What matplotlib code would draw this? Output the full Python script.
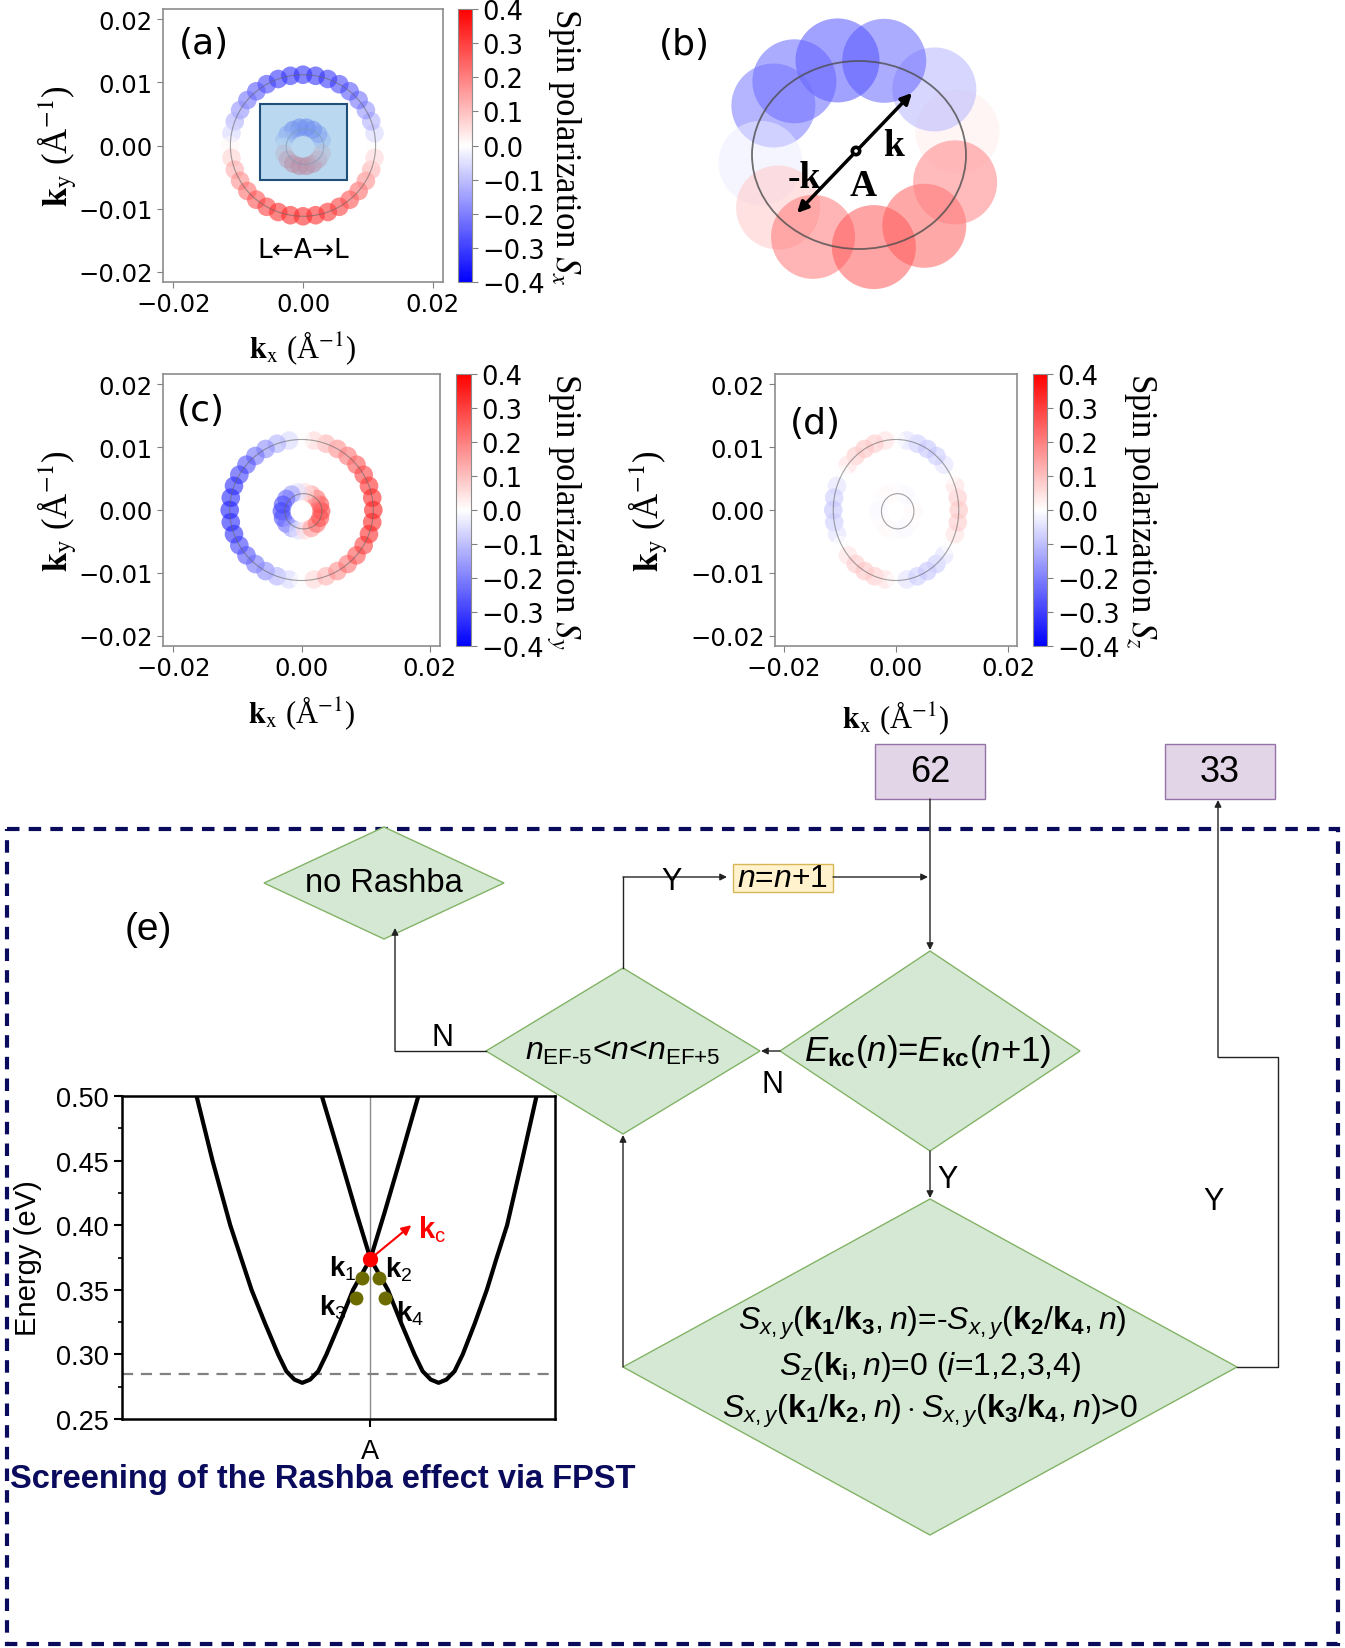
import matplotlib
matplotlib.use("Agg")
import matplotlib.pyplot as plt
import numpy as np
from matplotlib.patches import Polygon, Rectangle, Ellipse, Circle, FancyArrowPatch
from matplotlib.cm import ScalarMappable
from matplotlib.colors import Normalize
from matplotlib.ticker import MultipleLocator

plt.rcParams['font.family'] = ['DejaVu Sans']
plt.rcParams['mathtext.fontset'] = 'custom'
plt.rcParams['mathtext.rm'] = 'Liberation Sans'
plt.rcParams['mathtext.it'] = 'Liberation Sans:italic'
plt.rcParams['mathtext.bf'] = 'Liberation Sans:bold'

# ---------------- data ----------------
# spin textures: points on two rings (angle in degrees, radius in 1/A)
r_outer = 0.0112
r_inner = 0.0031
ang_outer = [0, 10, 20, 30, 40, 50, 60, 70, 80, 90, 100, 110, 120, 130, 140, 150, 160, 170,
             180, 190, 200, 210, 220, 230, 240, 250, 260, 270, 280, 290, 300, 310, 320, 330, 340, 350]
ang_inner = [0, 20, 40, 60, 80, 100, 120, 140, 160, 180, 200, 220, 240, 260, 280, 300, 320, 340]

sx_outer = [0.00, -0.06, -0.12, -0.17, -0.22, -0.26, -0.29, -0.31, -0.32, -0.32, -0.32, -0.31,
            -0.29, -0.26, -0.22, -0.17, -0.12, -0.06, 0.01, 0.07, 0.13, 0.18, 0.23, 0.27,
            0.30, 0.32, 0.33, 0.33, 0.33, 0.32, 0.30, 0.27, 0.23, 0.18, 0.12, 0.06]
sx_inner = [0.00, -0.10, -0.19, -0.26, -0.29, -0.29, -0.26, -0.19, -0.10, 0.00, 0.10, 0.19,
            0.26, 0.29, 0.29, 0.26, 0.19, 0.10]
sy_outer = [0.35, 0.34, 0.33, 0.30, 0.27, 0.22, 0.18, 0.12, 0.06, 0.00, -0.06, -0.12,
            -0.18, -0.22, -0.27, -0.30, -0.33, -0.34, -0.35, -0.34, -0.33, -0.30, -0.27, -0.22,
            -0.18, -0.12, -0.06, 0.00, 0.06, 0.12, 0.18, 0.22, 0.27, 0.30, 0.33, 0.34]
sy_inner = [0.30, 0.28, 0.23, 0.15, 0.05, -0.05, -0.15, -0.23, -0.28, -0.30, -0.28, -0.23,
            -0.15, -0.05, 0.05, 0.15, 0.23, 0.28]
sz_outer = [0.09, 0.08, 0.045, 0.00, -0.045, -0.08, -0.09, -0.08, -0.045, 0.00, 0.045, 0.08,
            0.09, 0.08, 0.045, 0.00, -0.045, -0.08, -0.09, -0.08, -0.045, 0.00, 0.045, 0.08,
            0.09, 0.08, 0.045, 0.00, -0.045, -0.08, -0.09, -0.08, -0.045, 0.00, 0.045, 0.08]
sz_inner = [0.01, 0.005, -0.005, -0.01, -0.005, 0.005, 0.01, 0.005, -0.005, -0.01, -0.005, 0.005,
            0.01, 0.005, -0.005, -0.01, -0.005, 0.005]

# panel (b): magnified blobs of the inner ring
b_ang = [13, 42, 76, 103, 131, 150, 186, 215, 242, 278, 310, 342]
b_sx = [0.03, -0.12, -0.25, -0.28, -0.25, -0.22, -0.03, 0.09, 0.22, 0.27, 0.26, 0.20]

# panel (e): two Rashba-split bands near A (k in arb. units, E in eV)
band1_k = [-0.490, -0.445, -0.395, -0.365, -0.335, -0.297, -0.260, -0.237, -0.214, -0.192,
           -0.170, -0.147, -0.124, -0.087, -0.049, 0.000, 0.040, 0.088, 0.135]
band1_E = [0.500, 0.450, 0.400, 0.375, 0.350, 0.324, 0.300, 0.287, 0.2805, 0.278,
           0.2805, 0.287, 0.300, 0.324, 0.350, 0.374, 0.410, 0.455, 0.500]
band2_k = [-0.137, -0.088, -0.040, 0.000, 0.049, 0.087, 0.124, 0.147, 0.170, 0.192,
           0.214, 0.237, 0.260, 0.294, 0.328, 0.356, 0.385, 0.427, 0.468]
band2_E = [0.500, 0.455, 0.410, 0.374, 0.350, 0.324, 0.300, 0.287, 0.2805, 0.278,
           0.2805, 0.287, 0.300, 0.324, 0.350, 0.375, 0.400, 0.450, 0.500]
kpt_k = [-0.023, 0.023, -0.040, 0.040]
kpt_E = [0.359, 0.359, 0.344, 0.344]
kpt_lbl = ['1', '2', '3', '4']
kc_k, kc_E = 0.0, 0.374
e_fermi = 0.285
e_ticks = [0.25, 0.30, 0.35, 0.40, 0.45, 0.50]

W, H = 1345, 1649
fig = plt.figure(figsize=(W / 100, H / 100), dpi=100)


def px_axes(x0, y0, x1, y1, **kw):
    return fig.add_axes([x0 / W, 1 - y1 / H, (x1 - x0) / W, (y1 - y0) / H], **kw)


def ftext(x, y, s, **kw):
    kw.setdefault('ha', 'center')
    kw.setdefault('va', 'center')
    fig.text(x / W, 1 - y / H, s, **kw)


norm = Normalize(-0.4, 0.4)
serif = dict(family='Liberation Serif', math_fontfamily='stix')

# ---------------- flowchart (drawn in pixel coordinates) ----------------
fc = fig.add_axes([0, 0, 1, 1])
fc.set_xlim(0, W)
fc.set_ylim(H, 0)
fc.axis('off')
sans = dict(family='Liberation Sans', ha='center', va='center')


def diamond(cx, cy, hw, hh):
    fc.add_patch(Polygon([(cx - hw, cy), (cx, cy - hh), (cx + hw, cy), (cx, cy + hh)],
                         closed=True, fc='#d5e8d4', ec='#82b366', lw=1))


def path_arrow(pts):
    xs, ys = zip(*pts)
    fc.plot(xs[:-1], ys[:-1], color='#222222', lw=1)
    fc.annotate('', xy=pts[-1], xytext=pts[-2],
                arrowprops=dict(arrowstyle='-|>', color='#222222', lw=1,
                                mutation_scale=10, shrinkA=0, shrinkB=0))


# dashed frame
fc.add_patch(Rectangle((7, 830), 1331, 815, fill=False, ec='#0b0b5e', lw=3,
                       ls=(0, (3, 2.2))))

for x0, lbl in [(875, '62'), (1165, '33')]:
    fc.add_patch(Rectangle((x0, 745), 110, 55, fc='#e1d5e7', ec='#9673a6', lw=1))
    fc.text(x0 + 55, 773, lbl, fontsize=26, **sans)

diamond(384, 884, 120, 56)
fc.text(384, 884, 'no Rashba', fontsize=23.5, **sans)
diamond(930, 1052, 150, 100)
fc.text(928, 1052, r'$E_{\mathbf{kc}}(n)$=$E_{\mathbf{kc}}(n$+1)', fontsize=25, **sans)
diamond(623, 1052, 137, 83)
fc.text(623, 1052, r'$n_{\text{EF-5}}$<$n$<$n_{\text{EF+5}}$', fontsize=23, **sans)
diamond(930, 1368, 307, 168)
fc.text(932, 1323, r'$S_{x,y}(\mathbf{k_1}/\mathbf{k_3},n)$=-$S_{x,y}(\mathbf{k_2}/\mathbf{k_4},n)$',
        fontsize=23, **sans)
fc.text(930, 1367, r'$S_z(\mathbf{k_i},n)$=0 ($i$=1,2,3,4)', fontsize=23, **sans)
fc.text(930, 1411, r'$S_{x,y}(\mathbf{k_1}/\mathbf{k_2},n)\cdot S_{x,y}(\mathbf{k_3}/\mathbf{k_4},n)$>0',
        fontsize=23, **sans)

fc.add_patch(Rectangle((733, 865), 100, 28, fc='#fff2cc', ec='#d6b656', lw=1))
fc.text(783, 879, r'$n$=$n$+1', fontsize=23, **sans)

path_arrow([(930, 800), (930, 951)])
path_arrow([(623, 969), (623, 878), (727, 878)])
path_arrow([(833, 878), (928, 878)])
path_arrow([(780, 1052), (761, 1052)])
path_arrow([(486, 1052), (395, 1052), (395, 929)])
path_arrow([(930, 1152), (930, 1199)])
path_arrow([(623, 1368), (623, 1136)])
path_arrow([(1237, 1368), (1278, 1368), (1278, 1058), (1218, 1058), (1218, 801)])

fc.text(672, 882, 'Y', fontsize=22, **sans)
fc.text(773, 1085, 'N', fontsize=22, **sans)
fc.text(443, 1038, 'N', fontsize=22, **sans)
fc.text(948, 1180, 'Y', fontsize=22, **sans)
fc.text(1214, 1202, 'Y', fontsize=22, **sans)
fc.text(148, 930, '(e)', fontsize=28, **sans)
fc.text(10, 1480, 'Screening of the Rashba effect via FPST', fontsize=23.5, fontweight='bold',
        color='#0b0b5e', family='Liberation Sans', ha='left', va='center')


# ---------------- spin-texture panels (a), (c), (d) ----------------
def spin_panel(box, cbox, v_out, v_in, letter, lxy, comp, ylab_x, clab_x, xlab_y):
    ax = px_axes(*box)
    th_o = np.radians(ang_outer)
    th_i = np.radians(ang_inner)
    ax.scatter(r_outer * np.cos(th_o), r_outer * np.sin(th_o), c=v_out, cmap='bwr',
               norm=norm, s=180, alpha=0.6, edgecolors='none', zorder=2)
    ax.scatter(r_inner * np.cos(th_i), r_inner * np.sin(th_i) - 0.0002, c=v_in, cmap='bwr',
               norm=norm, s=170, alpha=0.6, edgecolors='none', zorder=2)
    ax.add_patch(Circle((0, 0), r_outer, fill=False, ec='0.4', lw=0.8, alpha=0.6, zorder=3))
    ax.add_patch(Ellipse((0.0003, -0.0002), 0.0058, 0.0056, fill=False, ec='0.4', lw=0.8,
                         alpha=0.6, zorder=3))
    ax.set_xlim(-0.0216, 0.0216)
    ax.set_ylim(-0.0216, 0.0216)
    ax.set_xticks([-0.02, 0.0, 0.02])
    ax.set_yticks([-0.02, -0.01, 0.0, 0.01, 0.02])
    ax.tick_params(labelsize=17.5, color='0.5', length=4)
    for sp in ax.spines.values():
        sp.set_color('0.55')
        sp.set_linewidth(1.2)
    ax.text(lxy[0], lxy[1], letter, transform=ax.transAxes, fontsize=26, ha='left',
            va='center')

    cax = px_axes(*cbox)
    cb = fig.colorbar(ScalarMappable(norm=norm, cmap='bwr'), cax=cax)
    cb.set_ticks([-0.4, -0.3, -0.2, -0.1, 0.0, 0.1, 0.2, 0.3, 0.4])
    cb.ax.tick_params(labelsize=18.5, color='0.5', length=4)
    cb.outline.set_edgecolor('0.55')

    cy = (box[1] + box[3]) / 2
    cx = (box[0] + box[2]) / 2
    ftext(ylab_x, cy, r'$\mathbf{k}_\mathrm{y}$ (Å$^{-1}$)', rotation=90, fontsize=25, **serif)
    ftext(clab_x, cy, 'Spin polarization $S_%s$' % comp, rotation=270, fontsize=25, **serif)
    ftext(cx, xlab_y, r'$\mathbf{k}_\mathrm{x}$ (Å$^{-1}$)', fontsize=22, **serif)
    return ax


ax_a = spin_panel((163, 10, 443, 283), (458, 10, 472, 283), sx_outer, sx_inner, '(a)',
                  (0.055, 0.875), 'x', 57, 565, 348)
ax_a.add_patch(Rectangle((-0.0066, -0.0054), 0.0134, 0.0119, fc=(0.55, 0.75, 0.90, 0.6),
                         ec='#1f4e79', lw=1.5, zorder=4))
ax_a.text(0.0, -0.0165, 'L←A→L', fontsize=19, ha='center', va='center')

spin_panel((163, 375, 440, 647), (456, 375, 471, 647), sy_outer, sy_inner, '(c)',
           (0.05, 0.866), 'y', 57, 563, 713)
spin_panel((775, 375, 1017, 647), (1033, 375, 1047, 647), sz_outer, sz_inner, '(d)',
           (0.06, 0.82), 'z', 648, 1140, 718)

# ---------------- panel (b): magnified view ----------------
bb = px_axes(620, 0, 1100, 300)
bb.set_xlim(620, 1100)
bb.set_ylim(300, 0)
bb.axis('off')
cmap = plt.get_cmap('bwr')
for a, v in zip(b_ang, b_sx):
    t = np.radians(a)
    bb.add_patch(Circle((860 + 100 * np.cos(t), 154 - 95 * np.sin(t)), 42,
                        fc=cmap(norm(v)), ec='none', alpha=0.52))
bb.add_patch(Ellipse((859, 156), 214, 188, fill=False, ec='0.3', lw=1.3, alpha=0.8))
bb.add_patch(FancyArrowPatch((797, 214), (912, 94), arrowstyle='<|-|>', mutation_scale=16,
                             lw=2.5, color='black', shrinkA=0, shrinkB=0))
bb.add_patch(Circle((856, 152), 5.5, fc='black', ec='none', zorder=5))
bb.add_patch(Circle((856, 152), 1.8, fc='white', ec='none', zorder=6))
for x, y, s in [(894, 146, 'k'), (804, 179, '-k'), (863, 187, 'A')]:
    bb.text(x, y, s, fontsize=27, fontweight='bold', family='Liberation Serif',
            ha='center', va='center')
bb.text(684, 45, '(b)', fontsize=26, ha='center', va='center')

# ---------------- band structure inset of (e) ----------------
bx = px_axes(122, 1097, 555, 1420)
bx.plot(band1_k, band1_E, color='black', lw=3, solid_joinstyle='round', zorder=3)
bx.plot(band2_k, band2_E, color='black', lw=3, solid_joinstyle='round', zorder=3)
bx.axvline(0, color='0.55', lw=1, zorder=1)
bx.axhline(e_fermi, color='0.5', lw=1.6, ls=(0, (5, 3.5)), zorder=1)
bx.plot(kpt_k, kpt_E, 'o', color='#6b6b00', ms=10, mec='none', zorder=4)
bx.plot([kc_k], [kc_E], 'o', color='red', ms=11, mec='none', zorder=5)
bx.annotate('', xy=(0.115, 0.400), xytext=(kc_k, kc_E),
            arrowprops=dict(arrowstyle='-|>', color='red', lw=1.5, mutation_scale=14,
                            shrinkA=0, shrinkB=0))
bx.text(0.175, 0.397, r'$\mathbf{k}_\mathrm{c}$', color='red', fontsize=21, ha='center',
        va='center')
lbl_pos = [(-0.078, 0.367), (0.080, 0.366), (-0.107, 0.337), (0.112, 0.332)]
for (x, y), s in zip(lbl_pos, kpt_lbl):
    bx.text(x, y, r'$\mathbf{k}_{%s}$' % s, fontsize=20, ha='center', va='center', zorder=6)
bx.set_xlim(-0.70, 0.52)
bx.set_ylim(0.25, 0.50)
bx.set_yticks(e_ticks)
bx.yaxis.set_minor_locator(MultipleLocator(0.025))
bx.set_xticks([0])
bx.set_xticklabels(['A'])
bx.tick_params(axis='x', length=0, pad=8)
bx.tick_params(labelsize=19.5, width=1.5, length=6)
bx.tick_params(which='minor', width=1.2, length=3)
for lab in bx.get_xticklabels() + bx.get_yticklabels():
    lab.set_family('Liberation Sans')
for sp in bx.spines.values():
    sp.set_linewidth(1.8)
ftext(28, 1258, 'Energy (eV)', rotation=90, fontsize=21, family='Liberation Sans')

fig.savefig('out.png', dpi=100, facecolor='white')
